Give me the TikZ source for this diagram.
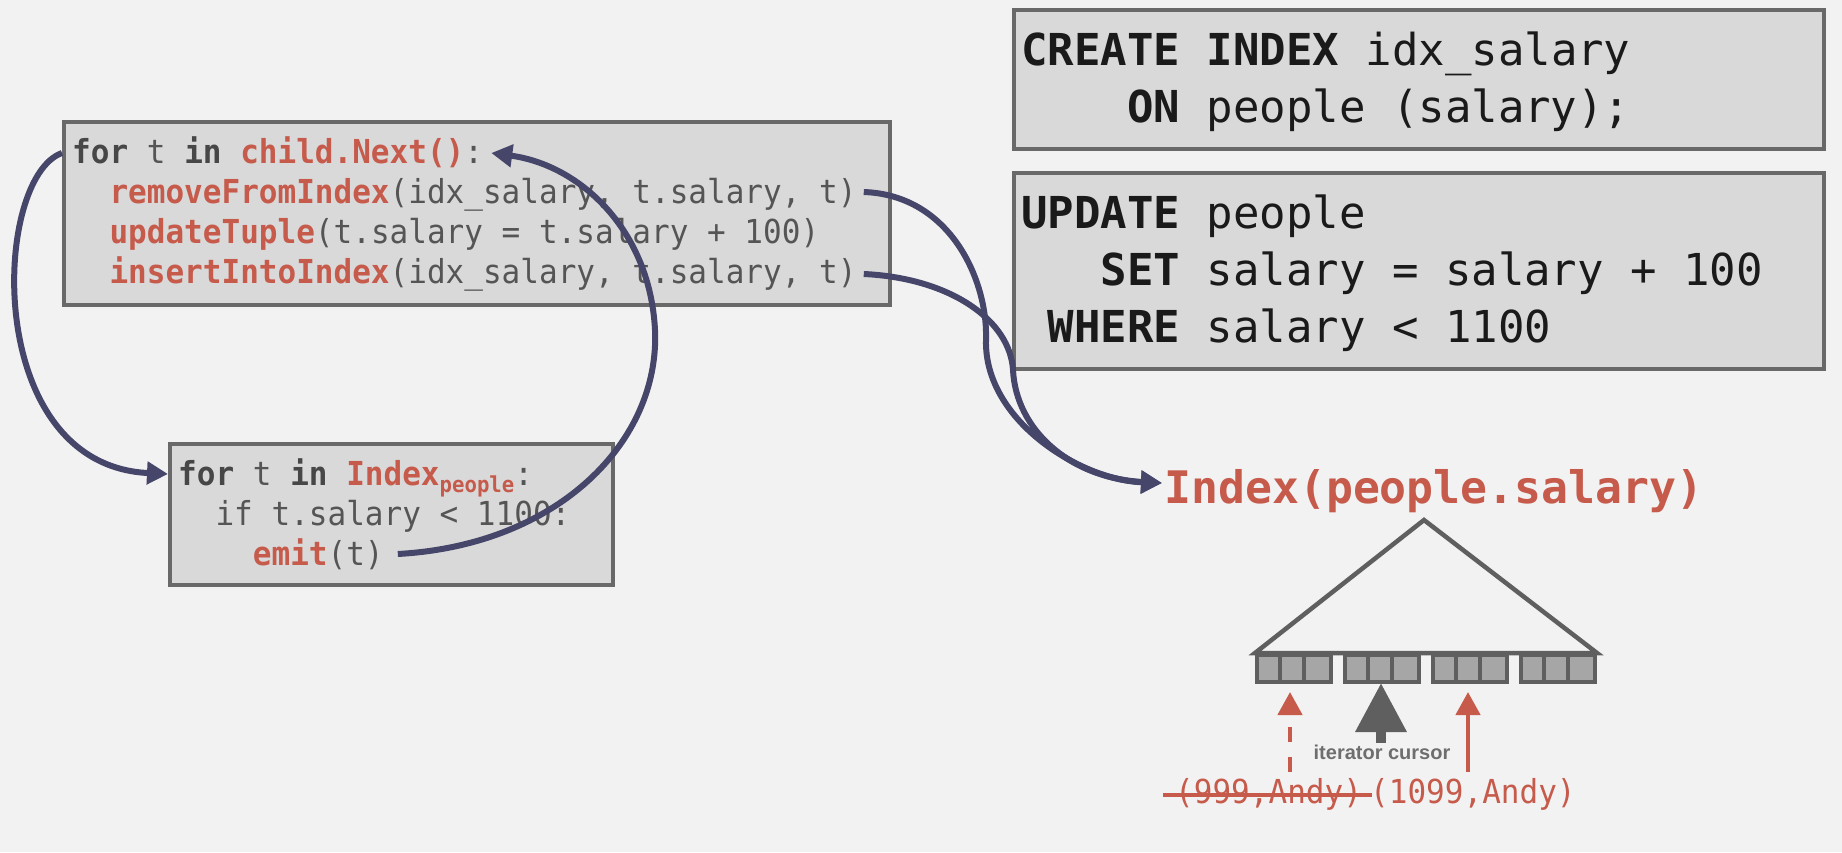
\documentclass[tikz,border=0pt]{standalone}
\usepackage{fontspec}
\usetikzlibrary{arrows.meta,calc}
\newfontfamily\codefont[FakeStretch=0.94]{DejaVu Sans Mono}
\newfontfamily\sqlfont{DejaVu Sans Mono}
\newfontfamily\labelfont{Liberation Sans}
\definecolor{bg}{HTML}{F2F2F2}
\definecolor{boxfill}{HTML}{D9D9D9}
\definecolor{boxline}{HTML}{696969}
\definecolor{redc}{HTML}{C65A4B}
\definecolor{navy}{HTML}{46466A}
\definecolor{codegray}{HTML}{555555}
\definecolor{kwgray}{HTML}{474747}
\definecolor{sqltext}{HTML}{1A1A1A}
\definecolor{treeline}{HTML}{5F5F5F}
\definecolor{leaffill}{HTML}{A6A6A6}
\definecolor{curtext}{HTML}{6E6E6E}
\newcommand\kwd[1]{\textcolor{kwgray}{\bfseries #1}}
\newcommand\rfn[1]{\textcolor{redc}{\bfseries #1}}
\newcommand\usc{\char"5F\relax}
\begin{document}
\begin{tikzpicture}[x=1pt,y=-1pt,
  box/.style={draw=boxline, fill=boxfill, line width=4pt, rectangle, inner sep=0pt, anchor=north west},
  code/.style={anchor=base west, inner sep=0pt, font=\codefont\fontsize{33}{40}\selectfont, text=codegray},
  sql/.style={anchor=base west, inner sep=0pt, font=\sqlfont\fontsize{44}{57}\selectfont, text=sqltext},
  conn/.style={draw=navy, line width=6pt, -{Triangle[length=21pt,width=22pt]}},
  leafgrp/.style={draw=treeline, fill=leaffill, line width=4pt, rectangle, inner sep=0pt, anchor=north west, minimum width=74pt, minimum height=27pt},
  ptr/.style={draw=redc, line width=4.5pt, -{Triangle[length=23pt,width=24pt]}}
]
\fill[bg] (0,0) rectangle (1842,852);
\useasboundingbox (0,0) rectangle (1842,852);

% SQL boxes
\node[box, minimum width=810pt, minimum height=139pt] (sql1) at (1012,8) {};
\node[sql] (s1) at (1021,65) {\textbf{CREATE INDEX} idx\usc salary};
\node[sql] (s2) at (1021,122) {\hphantom{xxxx}\textbf{ON} people (salary);};
\node[box, minimum width=810pt, minimum height=196pt] (sql2) at (1012,171) {};
\node[sql] (s3) at (1021,228) {\textbf{UPDATE} people};
\node[sql] (s4) at (1021,285) {\hphantom{xxx}\textbf{SET} salary = salary + 100};
\node[sql] (s5) at (1021,342) {\hphantom{x}\textbf{WHERE} salary < 1100};

% top code box
\node[box, minimum width=826pt, minimum height=183pt] (topbox) at (62,120) {};
\node[code] (l1) at (72,163) {\kwd{for} t \kwd{in} \rfn{child.Next()}:};
\node[code] (l2) at (72,203) {\hphantom{xx}\rfn{removeFromIndex}(idx\usc salary, t.salary, t)};
\node[code] (l3) at (72,243) {\hphantom{xx}\rfn{updateTuple}(t.salary = t.salary + 100)};
\node[code] (l4) at (72,283) {\hphantom{xx}\rfn{insertIntoIndex}(idx\usc salary, t.salary, t)};

% bottom code box
\node[box, minimum width=443pt, minimum height=141pt] (botbox) at (168,442) {};
\node[code] (b1) at (178,485) {\kwd{for} t \kwd{in} \rfn{Index}\raisebox{-7pt}{\rfn{\fontsize{22}{22}\selectfont people}}:};
\node[code] (b2) at (178,525) {\hphantom{xx}if t.salary < 1100:};
\node[code] (b3) at (178,565) {\hphantom{xxxx}\rfn{emit}(t)};

% index title
\node[anchor=base west, inner sep=0pt, font=\sqlfont\bfseries\fontsize{44.8}{45}\selectfont, text=redc] (idx) at (1164,503) {Index(people.salary)};

% tree
\node[leafgrp] (g1) at (1255,653) {};
\node[leafgrp] (g2) at (1343,653) {};
\node[leafgrp] (g3) at (1431,653) {};
\node[leafgrp] (g4) at (1519,653) {};
\foreach \g in {g1,g2,g3,g4}{
  \draw[treeline, line width=4pt] ($(\g.north west)+(24.7,0)$) -- ($(\g.south west)+(24.7,0)$);
  \draw[treeline, line width=4pt] ($(\g.north west)+(49.3,0)$) -- ($(\g.south west)+(49.3,0)$);
}
\draw[treeline, fill=bg, line width=4.5pt, line join=miter] (g1.north west) -- (1424,520) -- (g4.north east) -- cycle;

% cursor and pointers
\node[inner sep=0pt, font=\labelfont\bfseries\fontsize{20}{20}\selectfont, text=curtext] (itc) at (1382,752) {iterator cursor};
\draw[draw=treeline, line width=10pt, -{Triangle[length=49pt,width=49pt]}] (1381,743) -- (1381,683);
\node[code, text=redc] (old) at (1175,803) {(999,Andy)};
\node[code, text=redc] (new) at (1370,803) {(1099,Andy)};
\draw[redc, line width=3.5pt] ($(old.base west)+(-12,-8)$) -- ($(old.base east)+(10,-8)$);
\draw[ptr, dash pattern=on 15pt off 15pt] (1290,772) -- (1290,692);
\draw[ptr] (1468,772) -- (1468,692);

% connectors
\coordinate (l1m) at ($(l1.base west)+(0,-10)$);
\coordinate (b1m) at ($(b1.base west)+(0,-11)$);
\draw[conn] (topbox.west |- l1m) .. controls (-8,178) and (-18,465) .. (botbox.west |- b1m);
\draw[conn] ($(b3.base east)+(14,-11)$) .. controls (560,545) and (660,440) .. (655,330)
   .. controls (650,230) and (580,165) .. ($(l1.base east)+(8,-10)$);
\draw[conn] ($(l2.base east)+(7,-11)$) .. controls (950,195) and (988,280) .. (986,340)
   .. controls (984,420) and (1080,480) .. ($(idx.base west)+(-2,-20)$);
\draw[conn] ($(l4.base east)+(7,-9)$) .. controls (950,278) and (1010,320) .. (1013,370)
   .. controls (1016,430) and (1070,478) .. ($(idx.base west)+(-2,-20)$);
\end{tikzpicture}
\end{document}
